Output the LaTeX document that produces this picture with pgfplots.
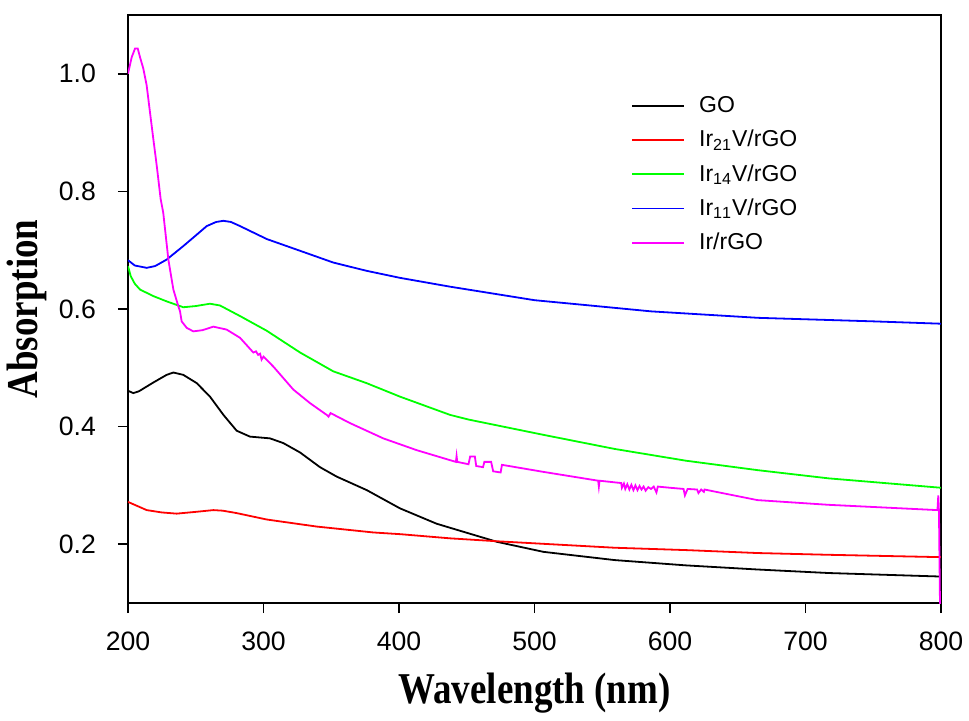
\documentclass[border=0pt]{standalone}
\usepackage{pgfplots}
\pgfplotsset{compat=1.18}
\usepackage{fontspec}
\setmainfont{Liberation Sans}
\newfontfamily\timesfont{Liberation Serif}
\definecolor{lgreen}{RGB}{0,255,0}
\definecolor{pmag}{RGB}{255,0,255}

\begin{document}
\begin{tikzpicture}
\useasboundingbox (-64pt,-58.5pt) rectangle (420.5pt,301.5pt);
\begin{axis}[
    scale only axis,
    width=406.5pt, height=294pt,
    xmin=200, xmax=800, ymin=0.1, ymax=1.1,
    xtick={200,300,...,800},
    ytick={0.2,0.4,0.6,0.8,1.0},
    xtick pos=bottom, ytick pos=left,
    tick align=outside,
    major tick length=5pt,
    axis line style={line width=0.8pt},
    every tick/.style={black, line width=0.8pt},
    /pgf/number format/assume math mode=true,
    yticklabel style={/pgf/number format/fixed, /pgf/number format/fixed zerofill, /pgf/number format/precision=1, xshift=-7.5pt},
    xticklabel style={yshift=-6pt},
    ticklabel style={font=\fontsize{13.3}{16}\selectfont},
    xlabel={\scalebox{0.84}[1]{\timesfont\bfseries Wavelength (nm)}},
    ylabel={\scalebox{0.84}[1]{\timesfont\bfseries Absorption}},
    label style={font=\fontsize{22}{26}\selectfont},
    xlabel style={at={(axis description cs:0.5,-0.153)}, anchor=center},
    ylabel style={at={(axis description cs:-0.124,0.5)}, anchor=center},
    legend style={draw=none, fill=none, inner sep=0pt, at={(axis cs:571.2,0.969)}, anchor=north west,
        font=\fontsize{11.5}{13}\selectfont, row sep=3.3pt,
        cells={anchor=west}},
    /tikz/every odd column/.style={column sep=5pt},
    legend image code/.code={\draw[#1] (0pt,0pt) -- (26pt,0pt);},
    every axis plot/.append style={line width=0.9pt},
]

% GO
\addplot[black] coordinates {
(200,0.461)(203.9,0.457)(208,0.460)(213,0.467)(218.7,0.475)(228.5,0.488)(233.5,0.492)
(240.8,0.488)(250.7,0.474)(260.5,0.451)(270.4,0.420)(280.2,0.393)(290,0.383)(304.8,0.380)
(314.6,0.372)(327,0.356)(341.7,0.331)(354,0.315)(376.2,0.292)(400.7,0.261)(427.6,0.235)
(437.6,0.228)(472.4,0.204)(506.6,0.187)(559.2,0.173)(611.8,0.164)(664.5,0.157)(717,0.151)
(800,0.145)
};

% Ir21V/rGO
\addplot[red] coordinates {
(200,0.272)(203.9,0.268)(213.8,0.258)(225,0.254)(235.9,0.252)(250,0.255)(263,0.258)
(270,0.257)(280,0.253)(302.4,0.242)(339.3,0.230)(381,0.220)(401.3,0.217)(437.6,0.210)
(472.4,0.205)(559.2,0.194)(611.8,0.190)(664.5,0.185)(717,0.182)(800,0.178)
};

% Ir14V/rGO
\addplot[lgreen] coordinates {
(200,0.673)(202,0.656)(205,0.643)(208.9,0.633)(218.7,0.622)(228.5,0.613)(240.8,0.603)
(250,0.605)(260.5,0.609)(267.9,0.606)(282.7,0.588)(302.4,0.563)(327,0.526)(351.5,0.494)
(376,0.474)(400.7,0.451)(437.6,0.420)(451.3,0.412)(506.6,0.386)(559.2,0.362)(611.8,0.342)
(664.5,0.326)(717,0.312)(800,0.296)
};

% Ir11V/rGO
\addplot[blue] coordinates {
(200,0.683)(205,0.674)(213.8,0.670)(220,0.673)(228.5,0.684)(240.8,0.707)(250,0.725)
(258.1,0.741)(265,0.748)(270.4,0.750)(276,0.748)(282.7,0.741)(302.4,0.719)(327,0.699)
(351.5,0.679)(376,0.665)(400.7,0.653)(437.6,0.638)(500,0.615)(550,0.604)(586,0.596)
(665,0.585)(750,0.579)(800,0.575)
};

% Ir/rGO
\addplot[pmag] coordinates {
(200,1.000)(202.7,1.028)(205.2,1.043)(207.2,1.043)(208.9,1.028)(211.3,1.009)(213.8,0.980)
(216.2,0.935)(218.7,0.889)(221.2,0.844)(224.1,0.787)(226,0.764)(229.8,0.684)(233.5,0.633)
(237.1,0.605)(238.4,0.596)(239.6,0.579)(243.3,0.568)(248.2,0.562)(255,0.564)(263,0.570)
(272.8,0.565)(282.7,0.551)(292.5,0.526)(294.5,0.528)(296,0.522)(297.5,0.524)(298.6,0.514)
(300,0.519)(307.3,0.502)(322,0.463)(334.3,0.440)(346.6,0.420)(348,0.417)(349.5,0.423)
(363.8,0.406)(388.4,0.380)(413,0.360)(437.6,0.343)(442,0.340)(442.5,0.350)(443,0.340)
(451.3,0.336)(452.5,0.349)(456,0.349)(457,0.333)(462,0.331)(463,0.340)(468,0.340)
(469.5,0.324)(475,0.322)(476,0.335)(506.6,0.323)(547,0.308)(547.5,0.298)(548,0.308)
(564,0.304)(564.5,0.296)(566,0.303)(567,0.294)(568.5,0.302)(570,0.293)(571.5,0.301)
(573,0.292)(574.5,0.300)(576,0.292)(577.5,0.299)(579,0.293)(580.5,0.298)(582,0.291)
(584,0.297)(586,0.294)(588,0.298)(590,0.288)(591,0.298)(600,0.296)(610,0.294)(611,0.283)
(613,0.294)(620,0.293)(621,0.287)(623,0.293)(625,0.289)(625.5,0.293)(664.5,0.275)
(717,0.267)(797.4,0.258)(798,0.283)(798.5,0.256)(799.3,0.09)
};

\legend{GO, Ir$_{\mathrm{21}}$V/rGO, Ir$_{\mathrm{14}}$V/rGO, Ir$_{\mathrm{11}}$V/rGO, Ir/rGO}
\end{axis}
\end{tikzpicture}
\end{document}
